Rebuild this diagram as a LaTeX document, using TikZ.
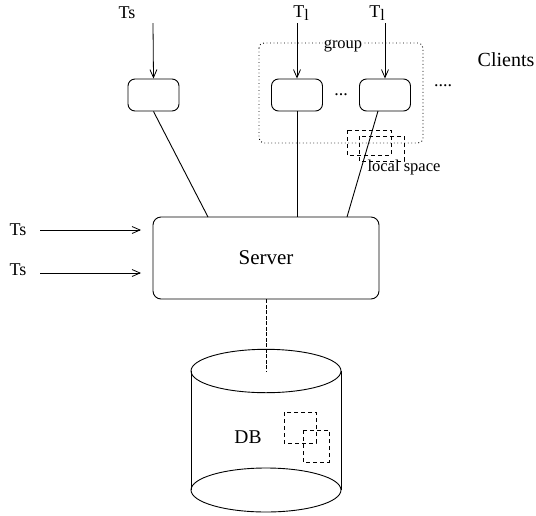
\documentclass[tikz,border=0pt]{standalone}
\usepackage{fontspec}
\setmainfont{Liberation Serif}
\usetikzlibrary{arrows.meta}
\begin{document}
\begin{tikzpicture}[x=1pt,y=-1pt,line width=0.9pt,
  client/.style={draw,rounded corners=7pt,minimum width=51pt,minimum height=32pt,inner sep=0pt},
  lbl/.style={inner sep=0pt,font=\fontsize{18}{18}\selectfont},
  small/.style={inner sep=0pt,font=\fontsize{16.5}{16.5}\selectfont},
  big/.style={inner sep=0pt,font=\fontsize{20}{20}\selectfont},
  arr/.style={-{Straight Barb[length=8pt,width=7pt]},line width=0.8pt},
  dsq/.style={draw,dash pattern=on 4pt off 3pt,line width=0.8pt}]
\useasboundingbox (0,0) rectangle (536,515);
% group frame
\draw[dash pattern=on 0.9pt off 2.6pt,line width=0.9pt,rounded corners=5pt] (259,43) rectangle (423,143);
\node[small,fill=white,inner xsep=1pt] (grp) at (343,46) {group};
% clients
\node[client] (c1) at (153.5,95) {};
\node[client] (c2) at (297,95) {};
\node[client] (c3) at (385,95) {};
\node[lbl] (dots1) at (341,95) {...};
\node[lbl] (dots2) at (443,86) {....};
\node[big] (clients) at (506,60) {Clients};
% top labels
\node[lbl] (ts0) at (127,13) {Ts};
\node[lbl] (tl1) at (301,13) {T\raisebox{-0.45ex}{\fontsize{16}{16}\selectfont l}};
\node[lbl] (tl2) at (377,13) {T\raisebox{-0.45ex}{\fontsize{16}{16}\selectfont l}};
\coordinate (a0) at (153,23);
\coordinate (a1) at (297,23);
\coordinate (a2) at (385,23);
\draw[arr] (a0) -- (c1.north);
\draw[arr] (a1) -- (c2.north);
\draw[arr] (a2) -- (c3.north);
% local space
\draw[dsq] (347,130) rectangle (391,155);
\draw[dsq] (359,136) rectangle (404,161);
\node[small] (ls) at (404,168) {local space};
% server
\node[draw,rounded corners=8pt,minimum width=226pt,minimum height=82pt,inner sep=0pt,font=\fontsize{21}{21}\selectfont] (srv) at (266,258) {Server};
\coordinate (s1) at (208,217);
\coordinate (s3) at (347,217);
\draw (c1.south) -- (s1);
\draw (c2.south) -- (c2.south |- srv.north);
\draw (378,111) -- (s3);
% left Ts
\node[lbl] (ts1) at (18,230) {Ts};
\node[lbl] (ts2) at (18,270) {Ts};
\coordinate (b1) at (40,230);
\coordinate (b2) at (40,273);
\draw[arr] (b1) -- (141,230);
\draw[arr] (b2) -- (141,273);
% database
\coordinate (dbtop) at (266,371);
\draw (191,371) -- (191,490);
\draw (341,371) -- (341,490);
\draw (dbtop) ellipse [x radius=75pt, y radius=21.7pt];
\draw (266,490) ellipse [x radius=75pt, y radius=22pt];
\draw[dash pattern=on 4pt off 1.5pt,line width=1pt] (srv.south) -- (dbtop);
\node[inner sep=0pt,font=\fontsize{19.5}{19.5}\selectfont] (db) at (248,437) {DB};
\draw[dsq] (284,412) rectangle (316,443);
\draw[dsq] (303,430) rectangle (329,462);
\end{tikzpicture}
\end{document}
